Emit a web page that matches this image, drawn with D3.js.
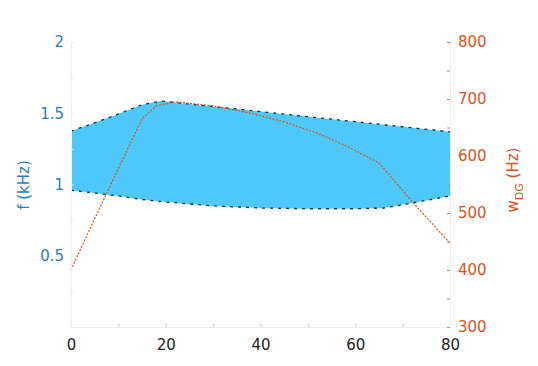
<!DOCTYPE html>
<html>
<head>
<meta charset="utf-8">
<script src="https://cdn.jsdelivr.net/npm/d3@7/dist/d3.min.js"></script>
<style>
body{margin:0;background:#fff;}
text{font-family:"DejaVu Sans",sans-serif;}
</style>
</head>
<body>
<div id="chart"></div>
<script>
var w=538;
var h=366;

// data
var xTicks=[0,20,40,60,80];
var fTicks=[0.5,1,1.5,2];
var wTicks=[300,400,500,600,700,800];
var bandX=[0,5,10,15,19,30,40,50,60,66,72,80];
var bandUpper=[1.375,1.433,1.495,1.56,1.586,1.547,1.512,1.476,1.441,1.42,1.398,1.37];
var bandLower=[0.96,0.94,0.92,0.895,0.88,0.85,0.835,0.83,0.83,0.835,0.87,0.92];
var wX=[0,5,10,15,18,22,30,38,45,52,58,65,72,80];
var wDG=[400,490,578,665,688,695,688,675,660,640,618,588,520,447];

var blue="#2b7bbf", orange="#d9541a";

var x=d3.scaleLinear().domain([0,80]).range([71,450]);
var yL=d3.scaleLinear().domain([0,2]).range([327,42]);
var yR=d3.scaleLinear().domain([300,800]).range([327,42]);

var svg=d3.select("#chart")
  .append("svg")
  .attr("width",w)
  .attr("height",h);

//band
var band=bandX.map(function(d,i){ return {x:d,lo:bandLower[i],hi:bandUpper[i]}; });
svg.append("path")
  .datum(band)
  .attr("fill","#4ec8f8")
  .attr("d",d3.area()
    .x(function(d){ return x(d.x); })
    .y0(function(d){ return yL(d.lo); })
    .y1(function(d){ return yL(d.hi); }));

["hi","lo"].forEach(function(k){
  svg.append("path")
    .datum(band)
    .attr("fill","none")
    .attr("stroke","#15324a")
    .attr("stroke-width",1.3)
    .attr("stroke-dasharray","3,5")
    .attr("d",d3.line()
      .x(function(d){ return x(d.x); })
      .y(function(d){ return yL(d[k]); }));
});

//w_DG line
svg.append("path")
  .datum(wX.map(function(d,i){ return [d,wDG[i]]; }))
  .attr("fill","none")
  .attr("stroke",orange)
  .attr("stroke-width",1.2)
  .attr("stroke-dasharray","2,1.5")
  .attr("d",d3.line()
    .x(function(d){ return x(d[0]); })
    .y(function(d){ return yR(d[1]); }));

//axes
var gx=svg.append("g")
  .attr("transform","translate(0,327)")
  .call(d3.axisBottom(x).tickValues(d3.range(0,81,10)).tickSize(-3).tickFormat(function(d){ return xTicks.indexOf(d)>=0 ? d : ""; }).tickPadding(12));
gx.select(".domain").attr("stroke","#eeeeee");
gx.selectAll(".tick line").attr("stroke","#cccccc");
gx.selectAll("text").attr("fill","#222").attr("font-size",15).attr("font-family","DejaVu Sans");

var gl=svg.append("g")
  .attr("transform","translate(71,0)")
  .call(d3.axisLeft(yL).tickValues(d3.range(0,2.01,0.25)).tickSize(-3).tickPadding(7)
    .tickFormat(function(d){ return fTicks.indexOf(d)>=0 ? d : ""; }));
gl.select(".domain").attr("stroke","#e2f3fd");
gl.selectAll(".tick line").attr("stroke","#d8ecf8");
gl.selectAll("text").attr("fill",blue).attr("font-size",15).attr("font-family","DejaVu Sans");

var gr=svg.append("g")
  .attr("transform","translate(450,0)")
  .call(d3.axisRight(yR).tickValues(d3.range(300,801,50)).tickSize(-3).tickPadding(8)
    .tickFormat(function(d){ return wTicks.indexOf(d)>=0 ? d : ""; }));
gr.select(".domain").attr("stroke","#fdeadf");
gr.selectAll(".tick line").attr("stroke","#999");
gr.selectAll("text").attr("fill",orange).attr("font-size",15).attr("font-family","DejaVu Sans");

//axis labels
svg.append("text")
  .attr("transform","translate(29,185) rotate(-90)")
  .attr("text-anchor","middle")
  .attr("fill",blue)
  .attr("font-size",15)
  .text("f (kHz)");

var rl=svg.append("text")
  .attr("transform","translate(518,180) rotate(-90)")
  .attr("text-anchor","middle")
  .attr("fill",orange)
  .attr("font-size",15);
rl.append("tspan").text("w");
rl.append("tspan").attr("dy",5).attr("font-size",11).text("DG");
rl.append("tspan").attr("dy",-5).text(" (Hz)");
</script>
</body>
</html>
